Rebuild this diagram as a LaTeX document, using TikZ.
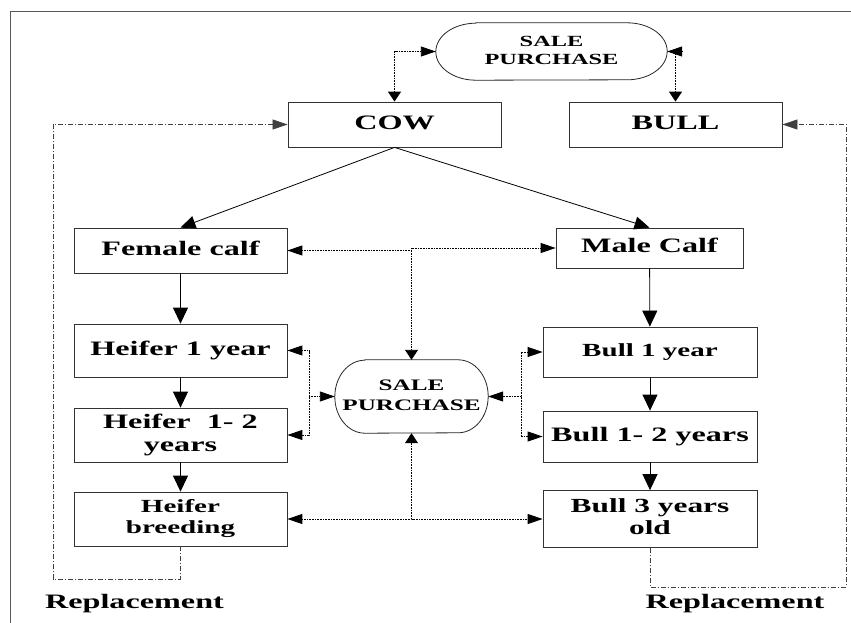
\documentclass[tikz,border=0pt]{standalone}
\usepackage{fontspec}
\setmainfont{Liberation Serif}
\usepackage{graphicx}
\usetikzlibrary{arrows.meta,calc}
\newcommand{\wt}[1]{\scalebox{1.57}[1]{\begin{tabular}{@{}c@{}}#1\end{tabular}}}
\tikzset{
 hT/.tip={Triangle[length=15pt,width=10pt]},
 vT/.tip={Triangle[length=10pt,width=13pt]},
 sT/.tip={Triangle[length=16pt,width=15pt]},
 dT/.tip={Triangle[length=15pt,width=13pt]},
 boxnode/.style={draw=black!80, line width=0.8pt, inner sep=0pt, minimum width=213pt, minimum height=45pt, font=\fontsize{20.5}{23}\selectfont\bfseries},
 blobnode/.style={inner sep=0pt},
 outl/.style={draw=black!85, line width=0.8pt},
 dotl/.style={black, line width=0.9pt, dash pattern=on 1pt off 0.6pt},
 ddot/.style={black!75, line width=0.7pt, dash pattern=on 5pt off 2pt on 1pt off 2pt},
 solidl/.style={black, line width=0.8pt},
 lbl/.style={font=\fontsize{20.5}{23}\selectfont\bfseries, inner sep=0pt, anchor=base},
}
\begin{document}
\begin{tikzpicture}[x=1pt,y=-1pt]
\useasboundingbox (0,0) rectangle (851,623);
% frame
\draw[black!65, line width=1pt] (10,623) -- (10,12) -- (851,12);
% top sale/purchase
\node[blobnode, minimum width=231pt, minimum height=57pt, font=\fontsize{15.5}{18}\selectfont\bfseries] (top) at (551.5,51.5) {\wt{SALE\\PURCHASE}};
\draw[outl] ([xshift=40pt]top.north west) -- ([xshift=-40pt]top.north east)
  arc[start angle=90, end angle=-90, x radius=40pt, y radius=28.5pt]
  -- ([xshift=40pt]top.south west)
  arc[start angle=270, end angle=90, x radius=40pt, y radius=28.5pt] -- cycle;
% middle sale/purchase
\node[blobnode, minimum width=153pt, minimum height=73pt, font=\fontsize{16}{19.5}\selectfont\bfseries] (mid) at (411.5,396.5) {\wt{SALE\\PURCHASE}};
\draw[outl] ([xshift=30pt]mid.north west) -- ([xshift=-30pt]mid.north east)
  arc[start angle=90, end angle=-90, x radius=30pt, y radius=36.5pt]
  -- ([xshift=30pt]mid.south west)
  arc[start angle=270, end angle=90, x radius=30pt, y radius=36.5pt] -- cycle;
% boxes
\node[boxnode] (cow) at (394.5,124.5) {\wt{COW}};
\node[boxnode] (bull) at (675.5,124.5) {\wt{BULL}};
\node[boxnode] (fc) at (180.5,250.5) {\wt{Female calf}};
\node[boxnode, minimum width=187pt, minimum height=40pt] (mc) at (649.5,248) {\wt{Male Calf}};
\node[boxnode, minimum height=53pt] (h1) at (180.5,350.5) {\wt{Heifer 1 year}};
\node[boxnode, minimum height=54pt] (h2) at (180.5,435) {\wt{Heifer~ 1- 2\\years}};
\node[boxnode, minimum height=54pt, font=\fontsize{18.5}{21}\selectfont\bfseries] (hb) at (180.5,519) {\wt{Heifer\\breeding}};
\node[boxnode, minimum width=214pt, minimum height=50pt, font=\fontsize{18.5}{21}\selectfont\bfseries] (b1) at (650,352) {\wt{Bull 1 year}};
\node[boxnode, minimum width=214pt, minimum height=51pt] (b2) at (650,436.5) {\wt{Bull 1- 2 years}};
\node[boxnode, minimum width=214pt, minimum height=57pt, font=\fontsize{20}{22}\selectfont\bfseries] (b3) at (650,519) {\wt{Bull 3 years\\old}};
% labels
\node[lbl] (rep1) at (134.5,608) {\scalebox{1.57}[1]{Replacement}};
\node[lbl] (rep2) at (735,608) {\scalebox{1.57}[1]{Replacement}};
% solid arrows
\draw[solidl,-{dT}] (cow.south) -- (fc.north);
\draw[solidl,-{dT}] (cow.south) -- (mc.north);
\draw[solidl,-{sT}] (fc) -- (h1);
\draw[solidl,-{sT}] (h1) -- (h2);
\draw[solidl,-{sT}] (h2) -- (hb);
\draw[solidl,-{sT}] (mc) -- (b1);
\draw[solidl,-{sT}] (b1) -- (b2);
\draw[solidl,-{sT}] (b2) -- (b3);
% top dotted
\draw[dotl,{vT}-{hT}] (cow.north) |- (top.west);
\draw[dotl,{vT}-{hT}] (bull.north) |- (top.east);
% middle dotted
\coordinate (j1) at (411.5,248);
\draw[dotl,{hT}-{hT}] (fc.east) -- (fc.east -| j1) -- (j1) -- (mc.west);
\draw[dotl,-{vT}] (j1) -- (mid.north);
\coordinate (jl) at (309,396.5);
\draw[dotl,{hT}-{hT}] (h1.east) -| (jl) |- (h2.east);
\draw[dotl,-{hT}] (jl) -- (mid.west);
\coordinate (jr) at (521,396.5);
\draw[dotl,{hT}-{hT}] (b1.west) -| (jr) |- (b2.west);
\draw[dotl,-{hT}] (jr) -- (mid.east);
\coordinate (jb) at (411.5,519);
\draw[dotl,{hT}-{hT}] (hb.east) -- (jb) -- (b3.west);
\draw[dotl,-{vT}] (jb) -- (mid.south);
% replacement dash-dot
\coordinate (rl) at (53,579);
\draw[ddot,-{hT}] (hb.south) |- (rl) |- (cow.west);
\coordinate (rr) at (846,587);
\draw[ddot,-{hT}] (b3.south) |- (rr) |- (bull.east);
\end{tikzpicture}
\end{document}
